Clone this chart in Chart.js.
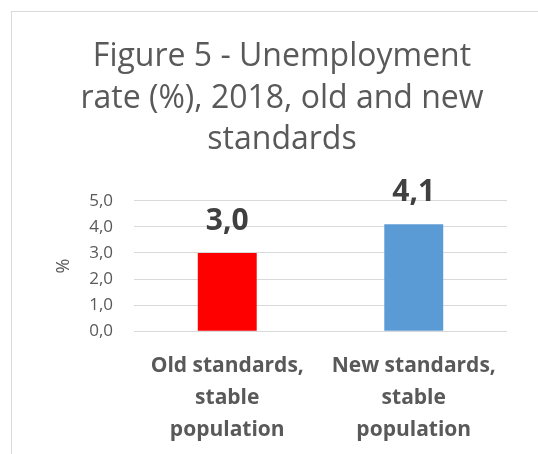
<!DOCTYPE html>
<html>
<head>
<meta charset="utf-8">
<script src="https://cdn.jsdelivr.net/npm/chart.js@4.4.0/dist/chart.umd.min.js"></script>
<style>
  html, body { margin: 0; padding: 0; background: #fff; overflow: hidden; }
  .frame {
    position: absolute; left: 11px; top: 11px;
    width: 542px; height: 470px;
    border-left: 1px solid #d9d9d9; border-top: 1px solid #d9d9d9;
  }
  canvas { display: block; }
</style>
</head>
<body>
<div class="frame">
  <canvas id="unemploymentChart" width="542" height="455"></canvas>
</div>
<script>
const titleLines = ['Figure 5 - Unemployment', 'rate (%), 2018, old and new', 'standards'];
const categories = [
  ['Old standards,', 'stable', 'population'],
  ['New standards,', 'stable', 'population']
];
const rates = [3.0, 4.1];
const barColors = ['#ff0000', '#5b9bd5'];
const yTicks = [0, 1, 2, 3, 4, 5];

const fontFamily = '"Open Sans", sans-serif';
const textColor = '#595959';

const fmt = v => v.toFixed(1).replace('.', ',');

// value labels above each bar
const barValueLabels = {
  id: 'barValueLabels',
  afterDatasetsDraw(chart) {
    const ctx = chart.ctx;
    const meta = chart.getDatasetMeta(0);
    ctx.save();
    ctx.font = 'bold 30px ' + fontFamily;
    ctx.fillStyle = '#404040';
    ctx.textAlign = 'center';
    ctx.textBaseline = 'alphabetic';
    meta.data.forEach((bar, i) => {
      ctx.fillText(fmt(rates[i]), bar.x, bar.y - 23);
    });
    ctx.restore();
  }
};

new Chart(document.getElementById('unemploymentChart'), {
  type: 'bar',
  data: {
    labels: categories,
    datasets: [{
      data: rates,
      backgroundColor: barColors,
      barPercentage: 0.316,
      categoryPercentage: 1
    }]
  },
  options: {
    responsive: false,
    animation: false,
    layout: { padding: { left: 45, right: 47, top: 0, bottom: 10 } },
    plugins: {
      legend: { display: false },
      tooltip: { enabled: false },
      title: {
        display: true,
        text: titleLines,
        color: textColor,
        font: { family: fontFamily, size: 32, weight: 'normal', lineHeight: 1.3 },
        padding: { top: 24, bottom: 40 }
      }
    },
    scales: {
      x: {
        grid: { display: false },
        border: { display: false },
        ticks: {
          color: textColor,
          maxRotation: 0,
          autoSkip: false,
          padding: 11,
          font: { family: fontFamily, size: 21, weight: 'bold', lineHeight: 1.52 }
        }
      },
      y: {
        min: 0,
        max: 5,
        afterBuildTicks: axis => { axis.ticks = yTicks.map(v => ({ value: v })); },
        afterFit: axis => { axis.width = 77; },
        grid: { color: '#d9d9d9', drawTicks: false },
        border: { display: false },
        ticks: {
          color: textColor,
          autoSkip: false,
          padding: 21,
          font: { family: fontFamily, size: 17 },
          callback: v => fmt(v)
        },
        title: {
          display: true,
          text: '%',
          color: textColor,
          font: { family: fontFamily, size: 18, lineHeight: 1 },
          padding: { top: -2, bottom: 0 }
        }
      }
    }
  },
  plugins: [barValueLabels]
});
</script>
</body>
</html>
